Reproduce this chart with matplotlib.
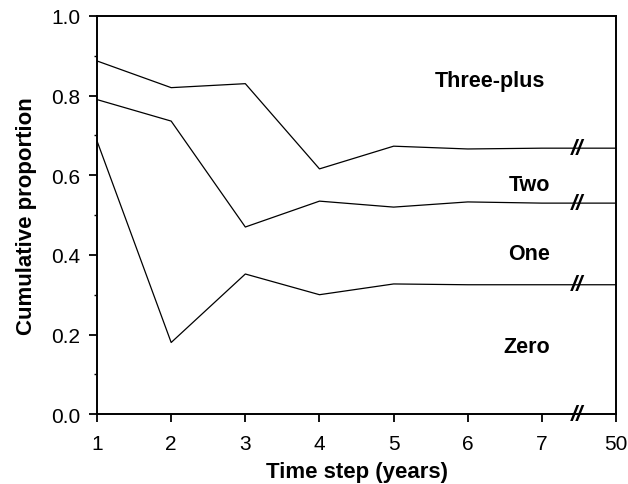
import numpy as np
import matplotlib
matplotlib.use('Agg')
import matplotlib.pyplot as plt
from matplotlib.ticker import MultipleLocator, FormatStrFormatter

# time steps (last one is after the axis break)
steps = ['1', '2', '3', '4', '5', '6', '7', '50']

# cumulative proportion boundaries between classes
zero_one = [0.686, 0.18, 0.352, 0.30, 0.327, 0.325, 0.325, 0.325]
one_two = [0.79, 0.736, 0.47, 0.535, 0.52, 0.533, 0.53, 0.53]
two_three = [0.887, 0.82, 0.83, 0.616, 0.673, 0.666, 0.668, 0.668]

class_labels = ['Zero', 'One', 'Two', 'Three-plus']
label_x = [6.80, 6.83, 6.83, 6.30]
label_y = [0.17, 0.403, 0.578, 0.837]

plt.rcParams['font.family'] = ['Liberation Sans', 'DejaVu Sans']

fig = plt.figure(figsize=(6.28, 4.85), dpi=100)
ax = fig.add_axes([0.1545, 0.144, 0.8265, 0.821])

x = np.arange(1, len(steps) + 1)
for yv in (zero_one, one_two, two_three):
    ax.plot(x, yv, color='black', linewidth=0.9)

# break marks
xb = 7.47
for yv in (zero_one, one_two, two_three):
    yb = np.interp(xb, x, yv)
    ax.text(xb, yb, '//', ha='center', va='center', fontsize=16,
            style='italic', fontweight='bold')
ax.text(xb, 0.0, '//', ha='center', va='center', fontsize=16,
        style='italic', fontweight='bold', clip_on=False)

for lab, lx, ly in zip(class_labels, label_x, label_y):
    ax.text(lx, ly, lab, ha='center', va='center', fontsize=15.5, fontweight='bold')

ax.set_xlim(1, 8)
ax.set_ylim(0, 1.0)
ax.set_xticks(x)
ax.set_xticklabels(steps)
ax.yaxis.set_major_locator(MultipleLocator(0.2))
ax.yaxis.set_minor_locator(MultipleLocator(0.1))
ax.yaxis.set_major_formatter(FormatStrFormatter('%.1f'))

ax.tick_params(axis='both', which='major', labelsize=15, length=6, width=1.3,
               direction='out')
ax.tick_params(axis='x', which='major', pad=8)
ax.tick_params(axis='y', which='major', pad=6)
ax.tick_params(axis='y', which='minor', length=2.5, width=1)
for sp in ax.spines.values():
    sp.set_linewidth(1.4)

ax.set_xlabel('Time step (years)', fontsize=16, fontweight='bold', labelpad=6)
ax.set_ylabel('Cumulative proportion', fontsize=16, fontweight='bold', labelpad=10)

fig.savefig('out.png', dpi=100)
